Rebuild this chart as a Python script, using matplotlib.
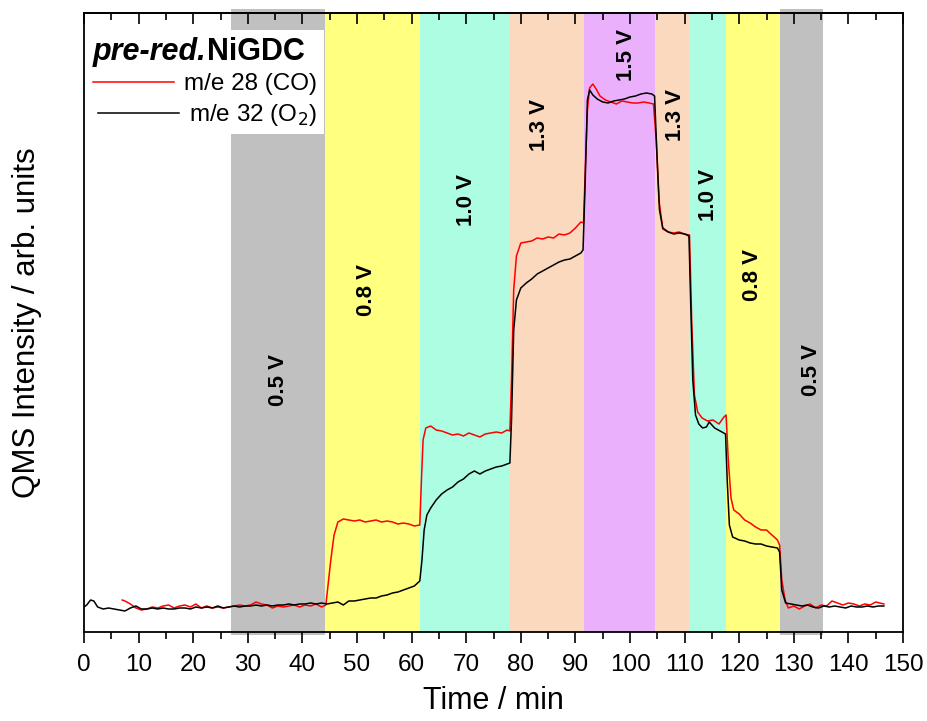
import matplotlib
matplotlib.use("Agg")
import matplotlib.pyplot as plt
from matplotlib.lines import Line2D
from matplotlib.offsetbox import TextArea, HPacker, AnchoredOffsetbox

plt.rcParams['font.family'] = ['Liberation Sans', 'DejaVu Sans']

# potential steps (start, end, colour, label, label x, label y)
band_start = [27.0, 44.2, 61.6, 77.9, 91.6, 104.6, 110.8, 117.6, 127.4]
band_end = [44.2, 61.6, 77.9, 91.6, 104.6, 110.8, 117.6, 127.4, 135.4]
band_color = ['#c0c0c0', '#ffff80', '#adfde2', '#fad9be', '#ebb0fb',
              '#fad9be', '#adfde2', '#ffff80', '#c0c0c0']
band_label = ['0.5 V', '0.8 V', '1.0 V', '1.3 V', '1.5 V', '1.3 V', '1.0 V', '0.8 V', '0.5 V']
label_t = [35.7, 51.8, 70.1, 83.5, 99.4, 108.4, 114.3, 122.5, 133.3]
label_y = [252, 342, 432, 507, 577, 517, 437, 357, 262]

# m/e 32 (O2)
t_o2 = [0, 0.5, 1.2, 1.8, 2.5, 3.5, 4.5, 5.5, 6.5, 7.5, 8.5, 9.5, 10.5, 11.5, 12.5,
        13.5, 14.5, 15.5, 16.5, 17.5, 18.5, 19.5, 20.5, 21.5, 22.5, 23.5, 24.5, 25.5,
        26.5, 27.5, 28.5, 29.5, 30.5, 31.5, 32.5, 33.5, 34.5, 35.5, 36.5, 37.5, 38.5,
        39.5, 40.5, 41.5, 42.5, 43.5, 44.5, 45.5, 46.5, 47.5, 48.5, 49.5, 50.5, 51.5,
        52.5, 53.5, 54.5, 55.5, 56.5, 57.5, 58.5, 59.5, 60.5, 61.5, 61.9, 62.3, 62.8,
        63.5, 64.5, 65.5, 66.5, 67.5, 68.5, 69.5, 70.5, 71.5, 72.5, 73.5, 74.5, 75.5,
        76.5, 77.5, 78.0, 78.3, 78.7, 79.2, 80, 81, 82, 83, 84, 85, 86, 87, 88, 89, 90,
        91, 91.4, 91.8, 92.2, 92.6, 93.2, 94, 95, 96, 97, 98, 99, 100, 101, 102, 103,
        104, 104.5, 104.9, 105.4, 106, 107, 108, 109, 110, 110.8, 111.1, 111.5, 112,
        112.6, 113.3, 114, 114.5, 115.5, 116.5, 117.5, 117.8, 118.2, 118.8, 120, 121,
        122, 123, 124, 125, 126, 127, 127.4, 127.8, 128.5, 129.5, 130.5, 131.5, 132.5,
        133.5, 134.5, 135.5, 136.5, 137.5, 138.5, 139.5, 140.5, 141.5, 142.5, 143.5,
        144.5, 145.5, 146.5]
i_o2 = [25, 27, 32, 31, 25, 23, 24, 23, 22, 21, 24, 26, 23, 23, 24,
        23, 24, 23, 23, 24, 24, 23, 25, 24, 25, 24, 26, 24,
        25, 26, 25, 26, 26, 27, 26, 27, 26, 27, 27, 28, 27,
        28, 28, 29, 28, 29, 28, 29, 30, 27, 31, 31, 32, 33,
        34, 34, 36, 37, 39, 40, 42, 44, 46, 51, 72, 102, 117,
        124, 132, 138, 142, 145, 150, 153, 158, 161, 158, 161, 163, 165,
        166, 168, 169, 212, 302, 332, 344, 349, 353, 358, 361, 364, 367, 370, 372, 373, 376,
        379, 382, 452, 532, 542, 537, 533, 530, 529, 531, 532, 533, 535, 536, 538, 539,
        538, 536, 482, 422, 404, 400, 398, 399, 398, 396, 332, 252, 217,
        208, 204, 205, 210, 204, 201, 198, 152, 107, 95, 92, 91,
        89, 88, 88, 86, 85, 84, 80, 42, 29, 28, 27, 26, 27,
        25, 24, 26, 25, 26, 25, 24, 26, 25, 25, 26,
        25, 26, 26]

# m/e 28 (CO)
t_co = [7, 7.5, 8.5, 9.5, 10.5, 11.5, 12.5, 13.5, 14.5, 15.5, 16.5, 17.5, 18.5, 19.5,
        20.5, 21.5, 22.5, 23.5, 24.5, 25.5, 26.5, 27.5, 28.5, 29.5, 30.5, 31.5, 32.5,
        33.5, 34.5, 35.5, 36.5, 37.5, 38.5, 39.5, 40.5, 41.5, 42.5, 43.5, 44.3, 44.6,
        45.2, 45.8, 46.5, 47.5, 48.5, 49.5, 50.5, 51.5, 52.5, 53.5, 54.5, 55.5, 56.5,
        57.5, 58.5, 59.5, 60.5, 61.5, 61.8, 62.1, 62.6, 63.5, 64.5, 65.5, 66.5, 67.5,
        68.5, 69.5, 70.5, 71.5, 72.5, 73.5, 74.5, 75.5, 76.5, 77.5, 78, 78.3, 78.7, 79.2,
        80, 81, 82, 83, 84, 85, 86, 87, 88, 89, 90, 91, 91.5, 91.8, 92.2, 92.6, 93.2,
        93.8, 94.5, 95.5, 96.5, 97.5, 98.5, 99.5, 100.5, 101.5, 102.5, 103.5, 104.3,
        104.8, 105.3, 106, 107, 108, 109, 110, 110.9, 111.3, 111.8, 112.4, 113.2, 114.2,
        115.2, 116.3, 117.2, 117.6, 118, 118.5, 119, 120, 121, 122, 123, 124, 125, 126,
        127, 127.4, 127.8, 128.4, 129, 130, 131, 132, 133, 134, 135, 136, 137, 138, 139,
        140, 141, 142, 143, 144, 145, 146.5]
i_co = [32, 31, 28, 24, 22, 23, 25, 24, 26, 27, 24, 26, 27, 25,
        28, 24, 26, 24, 25, 24, 25, 26, 27, 26, 27, 30, 28,
        27, 24, 26, 25, 26, 27, 25, 27, 26, 28, 25, 27, 42,
        72, 97, 110, 113, 112, 111, 112, 110, 111, 112, 110, 111, 110,
        108, 109, 108, 106, 107, 152, 192, 204, 206, 202, 201, 199, 197,
        198, 196, 199, 197, 195, 198, 199, 200, 199, 202, 201, 252, 342, 376,
        389, 390, 391, 394, 393, 395, 394, 398, 397, 399, 404, 410, 409, 462, 522, 544, 548,
        543, 536, 532, 530, 528, 531, 530, 529, 529, 530, 529, 528,
        492, 432, 403, 400, 399, 400, 398, 397, 312, 237, 220, 214, 211,
        212, 208, 215, 217, 172, 134, 122, 118, 112, 109, 105, 102, 102, 97,
        92, 87, 52, 32, 24, 26, 23, 26, 28, 24, 27, 26, 31, 29, 27,
        29, 28, 26, 28, 27, 30, 28]

fig = plt.figure(figsize=(9.27, 7.21), dpi=100)
ax = fig.add_axes([84 / 927, 1 - 632 / 721, 819 / 927, 619 / 721])

for s, e, c in zip(band_start, band_end, band_color):
    if c == '#c0c0c0':
        ax.axvspan(s, e, ymin=-0.005, ymax=1.007, color=c, lw=0, clip_on=False, zorder=0)
    else:
        ax.axvspan(s, e, color=c, lw=0, zorder=0)

for lab, x, y in zip(band_label, label_t, label_y):
    ax.text(x, y, lab, rotation=90, ha='center', va='center',
            fontsize=16, fontweight='bold', zorder=3)

ax.plot(t_co, i_co, color='red', lw=1.1, zorder=4)
ax.plot(t_o2, i_o2, color='black', lw=1.1, zorder=5)

ax.set_xlim(0, 150)
ax.set_ylim(0, 619)
ax.set_xticks(range(0, 151, 10))
ax.set_xticks(range(5, 150, 10), minor=True)
ax.set_yticks([])
ax.tick_params(axis='x', which='major', direction='out', length=8, width=1.2,
               labelsize=17.5, pad=8)
ax.tick_params(axis='x', which='minor', direction='out', length=5, width=1.2)
for sp in ax.spines.values():
    sp.set_linewidth(1.3)

# top ticks point inward, bottom ticks point outward
sec = ax.secondary_xaxis('top')
sec.set_xticks(range(0, 151, 10))
sec.set_xticks(range(5, 150, 10), minor=True)
sec.tick_params(which='major', direction='in', length=8, width=1.2, labeltop=False)
sec.tick_params(which='minor', direction='in', length=5, width=1.2)
sec.spines['top'].set_linewidth(1.3)

ax.set_xlabel('Time / min', fontsize=22, labelpad=7)
ax.set_ylabel('QMS Intensity / arb. units', fontsize=22.5, labelpad=30)

handles = [Line2D([], [], color='red', lw=1.1), Line2D([], [], color='black', lw=1.1)]
leg = ax.legend(handles, ['m/e 28 (CO)', r'm/e 32 (O$_2$)'], loc='upper left',
                bbox_to_anchor=(0.004, 0.973), fontsize=17.5, title=' ', title_fontsize=22,
                frameon=True, fancybox=False, edgecolor='none', facecolor='white',
                framealpha=1, handlelength=3.3, handletextpad=0.45, borderpad=0.25,
                labelspacing=0.3, borderaxespad=0)
leg.set_zorder(6)
leg._legend_handle_box.get_children()[0].align = 'right'

title_box = HPacker(children=[
    TextArea('pre-red.', textprops=dict(fontsize=22, fontweight='bold', fontstyle='italic')),
    TextArea('NiGDC', textprops=dict(fontsize=22, fontweight='bold'))],
    align='baseline', pad=0, sep=0)
anc = AnchoredOffsetbox(loc='upper left', child=title_box, pad=0, frameon=False,
                        bbox_to_anchor=(0.011, 0.962), bbox_transform=ax.transAxes,
                        borderpad=0)
anc.set_zorder(7)
ax.add_artist(anc)

fig.savefig('out.png', dpi=100)
